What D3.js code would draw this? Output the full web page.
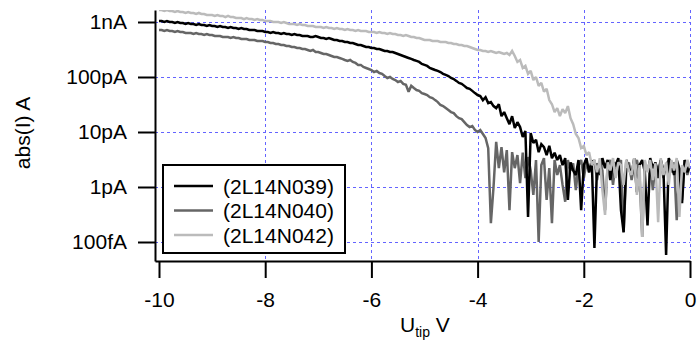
<!DOCTYPE html>
<html><head><meta charset="utf-8">
<script src="https://cdn.jsdelivr.net/npm/d3@7"></script>
<style>
body{margin:0;background:#fff}
svg{display:block}
text{font-family:"Liberation Sans",Arial,Helvetica,sans-serif;fill:#000}
</style>
</head><body>
<svg id="chart" width="697" height="342"></svg>
<script>
// ---- data (current in pA, sampled every 0.05 V from -10 V to 0 V) ----
const voltage = d3.range(201).map(i => -10 + i * 0.05);
const seriesNames = ["(2L14N039)", "(2L14N040)", "(2L14N042)"];
const current039 = [
1040,1040,1000,1040,1000,1000,959,1000,959,959,
920,959,920,920,882,920,882,882,846,882,
846,846,811,846,811,811,778,811,778,778,
746,778,746,746,716,716,716,686,686,686,
658,658,631,658,631,631,605,631,605,605,
580,605,580,580,557,557,557,534,534,557,
534,512,512,491,512,491,471,471,451,451,
433,433,415,415,398,382,382,366,351,351,
337,337,323,323,310,297,297,285,285,273,
262,251,241,231,222,213,204,196,188,173,
166,159,146,140,134,129,123,114,109,104,
96,92,85,78,75,69,63,61,56,51,
47,45,38,43,33.5,35,29.6,27.2,32,19.4,
23,17.8,13.9,19.4,11.8,15.1,12.3,8.1,10.4,0.285,
9.6,6.3,7.2,4.3,6.0,5.3,3.8,5.6,3.35,4.2,
3.1,3.8,2.5,3.35,0.58,2.8,2.0,1.65,3.1,0.38,
2.5,3.35,1.85,3.1,0.078,2.7,1.65,3.35,2.2,3.1,
1.34,2.8,2.5,3.35,0.38,0.15,3.1,2.2,1.65,3.35,
0.81,2.5,3.1,1.85,0.2,3.35,2.2,2.8,1.45,3.1,
2.0,0.058,3.35,2.5,1.65,3.1,2.2,0.51,3.1,1.85,2.5
];
const current040 = [
716,716,686,716,686,686,658,686,658,658,
631,631,631,605,631,605,605,580,605,580,
580,557,557,557,534,534,534,512,534,512,
512,491,491,491,471,471,471,451,451,451,
433,433,415,415,398,398,382,382,366,366,
351,351,337,337,323,323,310,297,310,285,
285,273,262,262,251,241,231,231,222,213,
204,196,204,188,180,166,166,152,146,140,
134,123,129,118,114,104,96,100,92,88,
81,85,75,72,54,69,63,58,56,51,
49,47,43,41.5,38,35,31,29.6,27.2,25,
23,22,19.4,17.8,17.1,15.1,13.4,12.3,12.8,10.9,
10,10.9,9.2,7.8,5.1,0.22,1.0,6.6,2.2,5.3,
1.85,4.7,0.38,4.3,2.2,3.8,1.18,4.2,1.45,3.5,
2.0,0.72,3.1,0.1,2.5,3.35,0.58,2.2,0.22,3.1,
1.65,2.5,1.09,0.54,3.1,2.0,2.7,0.88,2.5,3.1,
1.45,2.8,1.85,2.5,3.1,1.34,2.8,2.0,0.38,2.5,
3.1,1.09,2.8,2.2,3.1,0.15,2.0,2.8,1.34,2.5,
3.1,1.65,0.123,2.5,2.0,3.1,0.88,2.7,2.0,3.1,
1.45,2.5,3.1,1.85,2.8,0.25,2.2,0.58,3.1,1.65,2.5
];
const current042 = [
1650,1650,1585,1650,1585,1585,1520,1585,1520,1520,
1460,1520,1460,1460,1400,1460,1400,1400,1340,1340,
1340,1290,1340,1290,1290,1230,1290,1230,1230,1180,
1180,1180,1130,1180,1130,1130,1090,1130,1090,1090,
1040,1040,1040,1000,1000,1000,959,1000,959,920,
920,920,882,920,882,882,846,846,846,811,
811,811,778,811,778,778,746,778,746,746,
716,746,716,716,686,716,686,686,686,658,
658,658,631,658,631,631,605,631,605,605,
580,580,557,580,557,534,534,512,512,491,
471,471,471,451,451,451,433,433,433,415,
415,398,398,382,382,366,366,351,337,323,
310,310,297,297,285,297,285,273,285,273,
262,273,251,297,241,188,204,146,159,114,
129,88,100,69,78,54,61,38,32,23,
27.2,19.4,26.1,22,29.6,17.8,13.9,9.2,7.8,5.1,
5.6,3.8,4.3,2.5,3.1,1.85,3.35,0.88,0.31,2.8,
2.0,3.35,1.45,2.8,2.5,1.09,3.1,2.0,1.65,3.35,
0.72,2.5,0.123,3.1,1.85,3.1,1.34,2.7,0.23,3.35,
1.65,2.8,1.09,3.1,2.0,3.35,0.285,2.5,1.85,3.1,2.2
];
const seriesColors = ["#000000", "#666666", "#bbbbbb"];
const xTickValues = [-10, -8, -6, -4, -2, 0];
const xGridValues = [-8, -6, -4, -2, 0];
const yTickValues = [1000, 100, 10, 1, 0.1];
const yTickLabels = ["1nA", "100pA", "10pA", "1pA", "100fA"];

// ---- layout ----
const svg = d3.select("#chart");
const L = 155, R = 690, T = 10, B = 261;
const x = d3.scaleLinear().domain([-10, 0]).range([159, 690]);
x.domain([x.invert(L), 0]).range([L, R]);
const y = d3.scaleLog().domain([0.1, 1000]).range([242, 22]);
y.domain([y.invert(B), y.invert(T)]).range([B, T]);

svg.append("defs").append("clipPath").attr("id", "clip")
  .append("rect").attr("x", L).attr("y", T).attr("width", R - L).attr("height", B - T);

// grid
const grid = svg.append("g").attr("stroke", "#6464ff").attr("stroke-width", 1)
  .attr("stroke-dasharray", "3,3");
grid.selectAll(".vg").data(xGridValues).join("line")
  .attr("x1", d => Math.round(x(d)) + 0.5).attr("x2", d => Math.round(x(d)) + 0.5)
  .attr("y1", T).attr("y2", B);
grid.selectAll(".hg").data(yTickValues).join("line")
  .attr("y1", d => Math.round(y(d)) + 0.5).attr("y2", d => Math.round(y(d)) + 0.5)
  .attr("x1", L).attr("x2", R);

// series
const series = [
  {name: seriesNames[1], values: current040, color: seriesColors[1]},
  {name: seriesNames[0], values: current039, color: seriesColors[0]},
  {name: seriesNames[2], values: current042, color: seriesColors[2]}
];
const line = d3.line().x((d, i) => x(voltage[i])).y(d => y(d));
svg.append("g").attr("clip-path", "url(#clip)")
  .selectAll("path").data(series).join("path")
  .attr("fill", "none").attr("stroke", d => d.color).attr("stroke-width", 2.5)
  .attr("stroke-linejoin", "miter").attr("stroke-miterlimit", 2)
  .attr("d", d => line(d.values));

// axes
const xAxis = svg.append("g").attr("transform", `translate(0,${B})`)
  .call(d3.axisBottom(x).tickValues(xTickValues).tickFormat(d3.format("d"))
    .tickSize(17).tickSizeOuter(0).tickPadding(14));
const yAxis = svg.append("g").attr("transform", `translate(${L},0)`)
  .call(d3.axisLeft(y).tickValues(yTickValues).tickFormat((d, i) => yTickLabels[i])
    .tickSize(17).tickSizeOuter(0).tickPadding(11));
[xAxis, yAxis].forEach(a => {
  a.attr("font-family", null).attr("font-size", null);
  a.selectAll("path,line").attr("stroke", "#000").attr("stroke-width", 2);
  a.selectAll("text").style("font-size", "21px").attr("fill", "#000");
});
xAxis.selectAll("text").text(d => String(d));

// axis titles
svg.append("text").attr("transform", "translate(30,133) rotate(-90)")
  .attr("text-anchor", "middle").style("font-size", "21px").text("abs(I) A");
const xt = svg.append("text").attr("x", 400).attr("y", 332).style("font-size", "21px");
xt.append("tspan").text("U");
xt.append("tspan").attr("dy", 5).style("font-size", "14px").text("tip");
xt.append("tspan").attr("dy", -5).text(" V");

// legend
const lg = svg.append("g");
lg.append("rect").attr("x", 163).attr("y", 165).attr("width", 182).attr("height", 88)
  .attr("fill", "#fff").attr("stroke", "#000").attr("stroke-width", 2);
const legendItems = [0, 1, 2].map(i => ({name: seriesNames[i], color: seriesColors[i]}));
const ly = d3.scalePoint().domain(legendItems.map(d => d.name)).range([186, 235]);
lg.selectAll("line").data(legendItems).join("line")
  .attr("x1", 174).attr("x2", 213)
  .attr("y1", d => ly(d.name)).attr("y2", d => ly(d.name))
  .attr("stroke", d => d.color).attr("stroke-width", 2.5);
lg.selectAll("text").data(legendItems).join("text")
  .attr("x", 223).attr("y", d => ly(d.name) + 7.5)
  .style("font-size", "21px").text(d => d.name);
</script>
</body></html>
